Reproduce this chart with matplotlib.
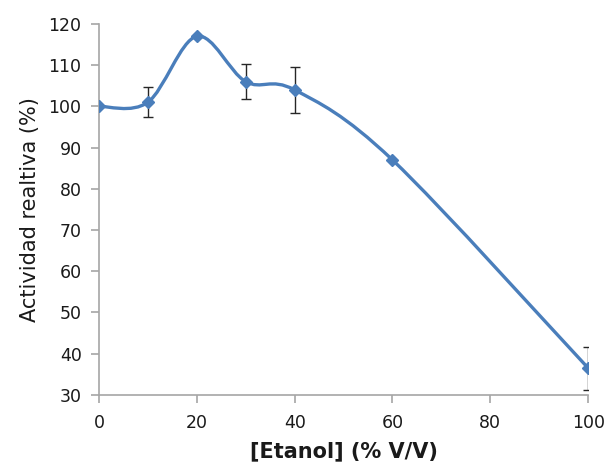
import numpy as np
import matplotlib
matplotlib.use("Agg")
import matplotlib.pyplot as plt
from matplotlib.path import Path
from matplotlib.patches import PathPatch

plt.rcParams['font.family'] = ['DejaVu Sans']

# data
etanol = [0, 10, 20, 30, 40, 60, 100]
actividad = [100, 101, 117, 106, 104, 87, 36.5]
error = [0, 3.6, 0, 4.2, 5.6, 0, 5.2]

x_ticks = [0, 20, 40, 60, 80, 100]
y_ticks = [30, 40, 50, 60, 70, 80, 90, 100, 110, 120]

blue = '#4A7EBB'
grey = '#A6A6A6'


def smooth_path(xs, ys):
    # bezier segments through every point (catmull-rom style, like excel smoothing)
    pts = np.column_stack([xs, ys]).astype(float)
    n = len(pts)
    verts = [pts[0]]
    codes = [Path.MOVETO]
    for i in range(n - 1):
        p_prev = pts[i - 1] if i > 0 else pts[i]
        p_next = pts[i + 2] if i + 2 < n else pts[i + 1]
        c1 = pts[i] + (pts[i + 1] - p_prev) / 6.0
        c2 = pts[i + 1] - (p_next - pts[i]) / 6.0
        verts += [c1, c2, pts[i + 1]]
        codes += [Path.CURVE4] * 3
    return Path(verts, codes)


fig = plt.figure(figsize=(6.07, 4.69), dpi=100)
ax = fig.add_axes([0.163, 0.158, 0.806, 0.791])

ax.add_patch(PathPatch(smooth_path(etanol, actividad), facecolor='none',
                       edgecolor=blue, lw=2.4, capstyle='round', zorder=2))

# error bars only where there is a value
ex = [x for x, e in zip(etanol, error) if e > 0]
ey = [y for y, e in zip(actividad, error) if e > 0]
ee = [e for e in error if e > 0]
ax.errorbar(ex, ey, yerr=ee, fmt='none', ecolor='#262626', elinewidth=1.0,
            capsize=3.5, capthick=1.0, zorder=3)

ax.plot(etanol, actividad, linestyle='none', marker='D', markersize=5.8,
        color=blue, zorder=4)

ax.set_xlim(0, 100)
ax.set_ylim(30, 120)
ax.set_xticks(x_ticks)
ax.set_yticks(y_ticks)

for side in ['top', 'right']:
    ax.spines[side].set_visible(False)
for side in ['left', 'bottom']:
    ax.spines[side].set_color(grey)
    ax.spines[side].set_linewidth(1.2)

ax.tick_params(axis='both', direction='out', length=5.5, width=1.2,
               color=grey, labelsize=12.5, labelcolor='#1a1a1a')
ax.tick_params(axis='y', pad=7)
ax.tick_params(axis='x', pad=8)

ax.set_xlabel('[Etanol] (% V/V)', fontsize=15, fontweight='bold',
              color='#1a1a1a', labelpad=7)
ax.set_ylabel('Actividad realtiva (%)', fontsize=15, color='#1a1a1a',
              labelpad=6)

fig.savefig('out.png', dpi=100)
